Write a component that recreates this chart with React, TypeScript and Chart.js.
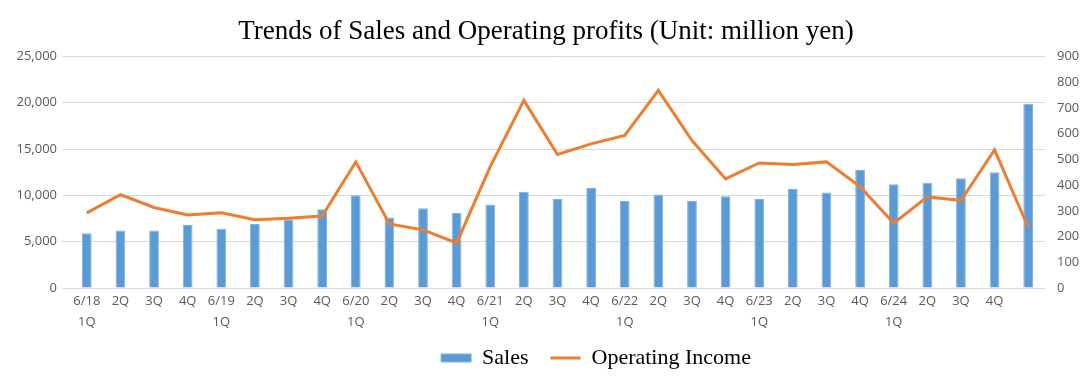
import React, { useEffect, useRef } from "react";
import { Chart, registerables } from "chart.js";

Chart.register(...registerables);

const titleText = "Trends of Sales and Operating profits (Unit: million yen)";

const categories: (string | string[])[] = [
  ["6/18", "1Q"], "2Q", "3Q", "4Q",
  ["6/19", "1Q"], "2Q", "3Q", "4Q",
  ["6/20", "1Q"], "2Q", "3Q", "4Q",
  ["6/21", "1Q"], "2Q", "3Q", "4Q",
  ["6/22", "1Q"], "2Q", "3Q", "4Q",
  ["6/23", "1Q"], "2Q", "3Q", "4Q",
  ["6/24", "1Q"], "2Q", "3Q", "4Q",
  "",
];

const salesValues = [
  5900, 6200, 6200, 6800, 6400, 6900, 7400, 8500, 10000, 7600, 8600, 8100, 9000, 10400, 9600,
  10800, 9400, 10100, 9400, 9900, 9600, 10700, 10300, 12750, 11200, 11350, 11850, 12500, 19900,
];

const operatingIncome = [
  292, 363, 313, 284, 292, 265, 271, 280, 490, 249, 226, 175, 472, 729, 519,
  560, 593, 768, 573, 424, 486, 480, 490, 394, 252, 354, 340, 537, 236,
];

const leftTicks = { min: 0, max: 25000, step: 5000 };
const rightTicks = { min: 0, max: 900, step: 100 };

const SANS = "'Open Sans', 'Noto Sans', sans-serif";
const SERIF = "'Liberation Serif', 'Times New Roman', serif";

const legendShift = {
  id: "legendShift",
  afterLayout(chart: any) {
    const lg = chart.legend;
    if (lg) {
      lg.left += 50;
      lg.right += 50;
      lg.top -= 13;
      lg.bottom -= 13;
    }
  },
};

export default function App() {
  const ref = useRef<HTMLCanvasElement | null>(null);

  useEffect(() => {
    document.body.style.margin = "0";
    const canvas = ref.current;
    if (!canvas) return;
    const chart = new Chart(canvas, {
      type: "bar",
      data: {
        labels: categories,
        datasets: [
          {
            type: "bar",
            label: "Sales",
            data: salesValues,
            backgroundColor: "#5b9bd5",
            borderColor: "#7fb1e0",
            borderWidth: 1,
            yAxisID: "y",
            categoryPercentage: 1,
            barPercentage: 0.29,
            pointStyle: "rect",
            order: 2,
          } as any,
          {
            type: "line",
            label: "Operating Income",
            data: operatingIncome,
            borderColor: "#ed7d31",
            backgroundColor: "#ed7d31",
            borderWidth: 3,
            pointRadius: 0,
            tension: 0,
            yAxisID: "y1",
            pointStyle: "line",
            order: 1,
          } as any,
        ],
      },
      options: {
        responsive: false,
        animation: false,
        layout: { padding: { left: 0, right: 0, top: 0, bottom: -12 } },
        plugins: {
          title: {
            display: true,
            text: titleText,
            color: "#000",
            font: { family: SERIF, size: 27, weight: "normal" },
            padding: { top: 16, bottom: 8 },
          },
          legend: {
            display: true,
            position: "bottom",
            labels: {
              usePointStyle: true,
              pointStyleWidth: 30,
              boxHeight: 8,
              boxWidth: 30,
              color: "#000",
              padding: 22,
              font: { family: SERIF, size: 22 },
              sort: (a: any, b: any) => a.datasetIndex - b.datasetIndex,
            },
          },
          tooltip: { enabled: false },
        },
        scales: {
          x: {
            grid: { display: false },
            border: { display: false },
            ticks: {
              color: "#595959",
              maxRotation: 0,
              minRotation: 0,
              autoSkip: false,
              padding: -5,
              font: { family: SANS, size: 13, lineHeight: 1.6 },
            },
            afterFit: (scale: any) => {
              scale.height = 50;
            },
          },
          y: {
            position: "left",
            min: leftTicks.min,
            max: leftTicks.max,
            grid: { color: "#d9d9d9", lineWidth: 1 },
            border: { display: false },
            ticks: {
              stepSize: leftTicks.step,
              color: "#595959",
              padding: 5,
              font: { family: SANS, size: 13 },
              callback: (v: any) => Number(v).toLocaleString("en-US"),
            },
            afterFit: (scale: any) => {
              scale.width = 70;
            },
          },
          y1: {
            position: "right",
            min: rightTicks.min,
            max: rightTicks.max,
            grid: { display: false },
            border: { display: false },
            ticks: {
              stepSize: rightTicks.step,
              color: "#595959",
              padding: 4,
              font: { family: SANS, size: 13 },
            },
            afterFit: (scale: any) => {
              scale.width = 47;
            },
          },
        },
      } as any,
      plugins: [legendShift],
    });
    return () => chart.destroy();
  }, []);

  return (
    <div style={{ width: 1092, height: 380, background: "#fff" }}>
      <canvas ref={ref} width={1092} height={380} style={{ display: "block" }} />
    </div>
  );
}
